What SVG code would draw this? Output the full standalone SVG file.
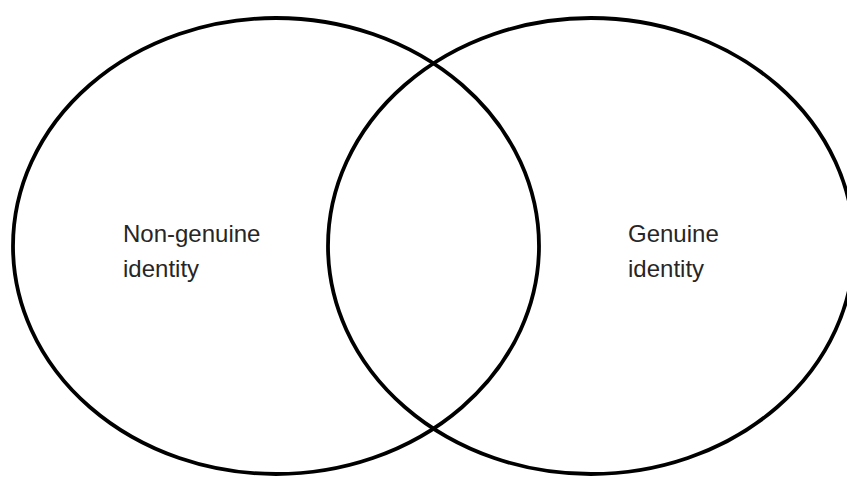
<svg xmlns="http://www.w3.org/2000/svg" width="847" height="479" viewBox="0 0 847 479">
<style>
.c{fill:none;stroke:#000;stroke-width:3.8}
.t{font-family:"Liberation Sans",Arial,sans-serif;font-size:24px;fill:#262626}
</style>
<rect width="847" height="479" fill="#fff"/>
<g id="non-genuine">
<ellipse class="c" cx="276" cy="246" rx="263" ry="228"/>
<text class="t" x="123" y="242">Non-genuine</text>
<text class="t" x="123" y="277">identity</text>
</g>
<g id="genuine">
<ellipse class="c" cx="591" cy="246" rx="263" ry="228"/>
<text class="t" x="628" y="242">Genuine</text>
<text class="t" x="628" y="277">identity</text>
</g>
</svg>
